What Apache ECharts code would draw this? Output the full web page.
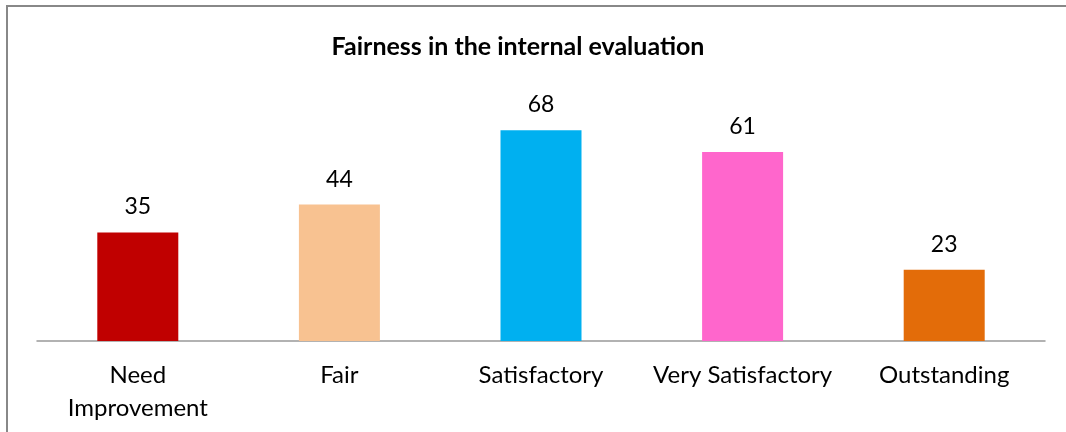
<!DOCTYPE html>
<html>
<head>
<meta charset="utf-8">
<script src="https://cdn.jsdelivr.net/npm/echarts@6/dist/echarts.min.js"></script>
<style>
  html, body { margin: 0; padding: 0; background: #fff; }
  #chart { width: 1066px; height: 432px; }
</style>
</head>
<body>
<div id="chart"></div>
<script>
// data
const categories = ['Need\nImprovement', 'Fair', 'Satisfactory', 'Very Satisfactory', 'Outstanding']
const counts = [35, 44, 68, 61, 23]
const barColors = ['#c00000', '#f8c291', '#00b0f0', '#ff66cc', '#e36c09']

const font = 'Lato, "Open Sans", sans-serif'

const myChart = echarts.init(document.getElementById('chart'))
myChart.setOption({
  animation: false,
  textStyle: {
    fontFamily: font
  },
  title: {
    text: 'Fairness in the internal evaluation',
    left: 513,
    textAlign: 'center',
    top: 29,
    textStyle: {
      fontFamily: font,
      fontSize: 25,
      fontWeight: 'bold',
      color: '#000'
    }
  },
  // outer border of the chart area
  graphic: [{
    type: 'rect',
    shape: { x: 7, y: 6, width: 1200, height: 600 },
    style: { fill: 'none', stroke: '#888', lineWidth: 2 },
    silent: true
  }],
  grid: {
    left: 37,
    right: 21,
    top: 93,
    bottom: 91
  },
  xAxis: {
    type: 'category',
    data: categories,
    axisTick: { show: false },
    axisLine: {
      lineStyle: { color: '#999', width: 1.5 }
    },
    axisLabel: {
      interval: 0,
      margin: 18,
      color: '#000',
      fontSize: 24,
      lineHeight: 33,
      fontFamily: font
    }
  },
  yAxis: {
    type: 'value',
    min: 0,
    max: 80,
    show: false,
    splitLine: { show: false }
  },
  series: [
    {
      type: 'bar',
      barWidth: 81,
      data: counts.map((v, i) => ({
        value: v,
        itemStyle: { color: barColors[i] }
      })),
      label: {
        show: true,
        position: 'top',
        distance: 14,
        color: '#000',
        fontSize: 23,
        fontFamily: font
      }
    }
  ]
})
</script>
</body>
</html>
